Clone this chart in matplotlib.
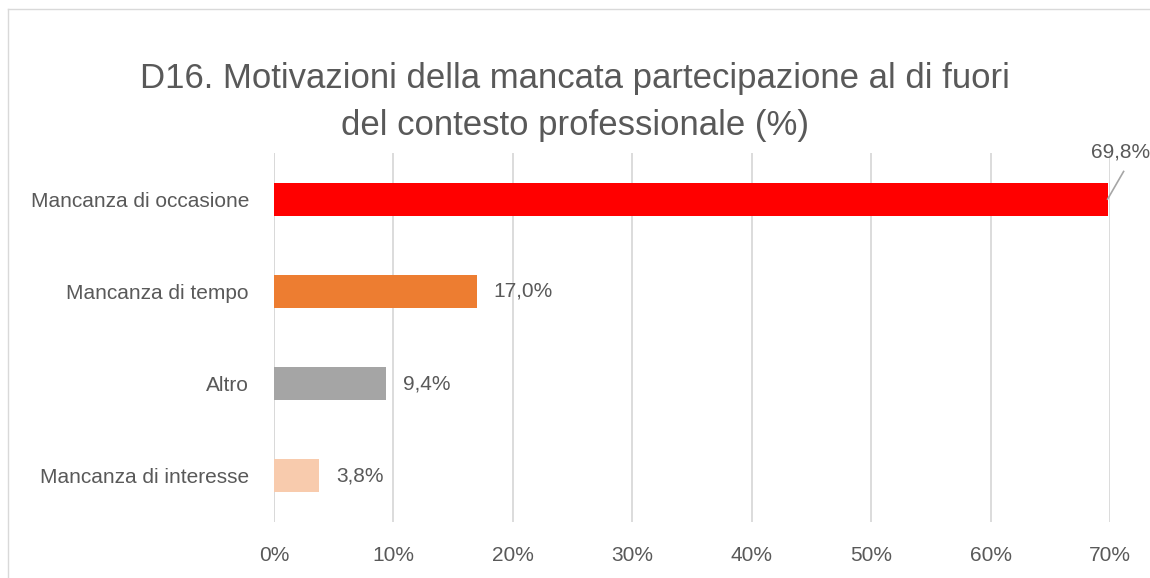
import matplotlib
matplotlib.use("Agg")
import matplotlib.pyplot as plt
from matplotlib.lines import Line2D

categories = ["Mancanza di occasione", "Mancanza di tempo", "Altro", "Mancanza di interesse"]
values = [69.8, 17.0, 9.4, 3.8]
labels = ["69,8%", "17,0%", "9,4%", "3,8%"]
colors = ["#FF0000", "#ED7D31", "#A5A5A5", "#F8CBAD"]
xticks = [0, 10, 20, 30, 40, 50, 60, 70]
xticklabels = ["0%", "10%", "20%", "30%", "40%", "50%", "60%", "70%"]
title = "D16. Motivazioni della mancata partecipazione al di fuori\ndel contesto professionale (%)"

plt.rcParams['font.family'] = ['Liberation Sans', 'DejaVu Sans']
TXT = "#595959"
FS = 15

fig = plt.figure(figsize=(11.5, 5.78), dpi=100)
ax = fig.add_axes([274/1150, 1-522/578, (1110-274)/1150, (522-153)/578])

ypos = list(range(len(categories)))
ax.barh(ypos, values, height=0.36, color=colors, zorder=3)
ax.set_ylim(len(categories)-0.5, -0.5)
ax.set_xlim(0, 70)
ax.set_xticks(xticks)
ax.set_xticklabels(xticklabels)
ax.set_yticks(ypos)
ax.set_yticklabels(categories)
ax.tick_params(axis='both', length=0, colors=TXT, labelsize=FS)
ax.tick_params(axis='x', pad=17)
ax.tick_params(axis='y', pad=18)
ax.grid(axis='x', color="#D9D9D9", linewidth=1.3, zorder=0)
for s in ax.spines.values():
    s.set_visible(False)
ax.axvline(0, color="#D9D9D9", linewidth=1.3, zorder=2)

for i, (v, lab) in enumerate(zip(values, labels)):
    if i == 0:
        # leader line from bar end up-right to the label
        ax.plot([v, v + 1.34], [i, i - 0.30], color="#A6A6A6", lw=1.2,
                clip_on=False, zorder=4)
        ax.text(v + 1.12, i - 0.51, lab, ha='center', va='center',
                fontsize=FS, color=TXT, clip_on=False)
    else:
        ax.annotate(lab, xy=(v, i), xytext=(12, 0), textcoords='offset points',
                    ha='left', va='center', fontsize=FS, color=TXT)

fig.text(0.5, 1-102/578, title, ha='center', va='center', fontsize=25, color=TXT,
         linespacing=1.55)

fig.add_artist(Line2D([7.5/1150, 7.5/1150], [0, 1-8.5/578], transform=fig.transFigure,
                      color="#D9D9D9", lw=1))
fig.add_artist(Line2D([7.5/1150, 1], [1-8.5/578, 1-8.5/578], transform=fig.transFigure,
                      color="#D9D9D9", lw=1))

fig.savefig("out.png", dpi=100, facecolor="white")
